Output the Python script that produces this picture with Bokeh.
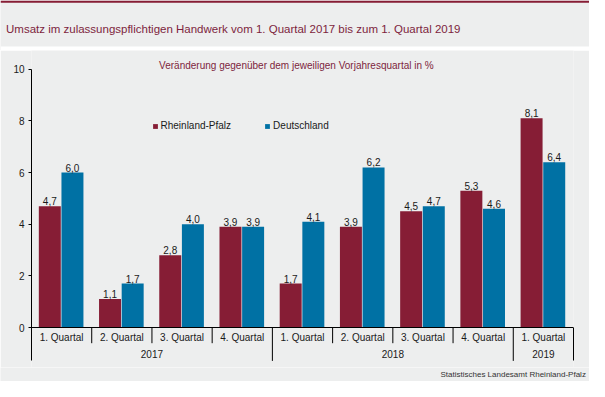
from bokeh.plotting import figure
from bokeh.layouts import column
from bokeh.models import (FactorRange, Range1d, ColumnDataSource, LinearAxis, CategoricalAxis,
                          FixedTicker, Label, BoxAnnotation, Legend, LegendItem)
from bokeh.transform import dodge
from bokeh.embed import file_html
from bokeh.resources import INLINE
from bokeh.core.properties import value

# ---------------- data ----------------
years = ["2017", "2017", "2017", "2017", "2018", "2018", "2018", "2018", "2019"]
quarters = ["1. Quartal", "2. Quartal", "3. Quartal", "4. Quartal",
            "1. Quartal", "2. Quartal", "3. Quartal", "4. Quartal", "1. Quartal"]
rlp = [4.7, 1.1, 2.8, 3.9, 1.7, 3.9, 4.5, 5.3, 8.1]
de = [6.0, 1.7, 4.0, 3.9, 4.1, 6.2, 4.7, 4.6, 6.4]
y_ticks = [0, 2, 4, 6, 8, 10]
series = ["Rheinland-Pfalz", "Deutschland"]

title = "Umsatz im zulassungspflichtigen Handwerk vom 1. Quartal 2017 bis zum 1. Quartal 2019"
subtitle = "Veränderung gegenüber dem jeweiligen Vorjahresquartal in %"
source_note = "Statistisches Landesamt Rheinland-Pfalz"

# ---------------- style ----------------
BG = "#EDEEEE"
RED = "#861D35"
BLUE = "#0071A4"
TITLE_COL = "#7D1F3D"
TXT = "#1A1A1A"
FONT = "Liberation Sans"

W = 589
HEAD_H, CHART_H, FOOT_H = 50, 317, 14
LEFT, RIGHT = 31, 16
Y0_PX = 277.0          # chart-canvas y of value 0
PX_PER_UNIT = 25.82
y_top = Y0_PX / PX_PER_UNIT
y_bot = -(CHART_H - Y0_PX) / PX_PER_UNIT
SHORT = 15.7 / PX_PER_UNIT
LONG = 33.4 / PX_PER_UNIT


def fmt(v):
    return f"{v:.1f}".replace(".", ",")


def blank(h):
    f = figure(width=W, height=h, x_range=Range1d(0, W), y_range=Range1d(0, h),
               output_backend="svg", toolbar_location=None,
               x_axis_location=None, y_axis_location=None,
               min_border=0, background_fill_color=BG, border_fill_color=BG,
               outline_line_color=None, frame_align=False)
    f.grid.visible = False
    return f


# ---------------- header ----------------
head = blank(HEAD_H)
head.add_layout(BoxAnnotation(bottom=HEAD_H - 2.2, top=HEAD_H, fill_color=RED,
                              fill_alpha=1, line_color=None))
head.add_layout(BoxAnnotation(bottom=0, top=4, fill_color="white",
                              fill_alpha=1, line_color=None))
head.add_layout(Label(x=5.5, y=HEAD_H - 28.8, text=title, text_font=FONT,
                      text_font_size="11.5px", text_color=TITLE_COL,
                      text_baseline="alphabetic"))

# ---------------- chart ----------------
factors = list(zip(years, quarters))
xr = FactorRange(factors=factors, factor_padding=0, group_padding=0,
                 subgroup_padding=0, range_padding=0)

p = figure(width=W, height=CHART_H, x_range=xr, y_range=Range1d(y_bot, y_top),
           output_backend="svg", toolbar_location=None,
           x_axis_location=None, y_axis_location=None,
           min_border_left=LEFT, min_border_right=RIGHT,
           min_border_top=0, min_border_bottom=0,
           background_fill_color=BG, border_fill_color=BG,
           outline_line_color=None, frame_align=False)
p.grid.visible = False

src = ColumnDataSource(dict(x=factors, rlp=rlp, de=de,
                            rlp_lbl=[fmt(v) for v in rlp],
                            de_lbl=[fmt(v) for v in de]))

OFF_R, OFF_D, BW = -0.196, 0.18, 0.365
r1 = p.vbar(x=dodge("x", OFF_R, range=p.x_range), top="rlp", width=BW, source=src,
            fill_color=RED, line_color=None)
r2 = p.vbar(x=dodge("x", OFF_D, range=p.x_range), top="de", width=BW, source=src,
            fill_color=BLUE, line_color=None)

for off, col in ((OFF_R, "rlp"), (OFF_D, "de")):
    p.text(x=dodge("x", off, range=p.x_range), y=col, text=col + "_lbl", source=src,
           text_align="center", text_baseline="alphabetic", y_offset=-5,
           text_font=value(FONT), text_font_size="10px", text_color=TXT)

# separators below the category axis
sep_x, sep_y1 = [], []
for i in range(1, len(factors)):
    sep_x.append((years[i], quarters[i], -0.5))
    sep_y1.append(-LONG if years[i] != years[i - 1] else -SHORT)
p.segment(x0=sep_x, x1=sep_x, y0=[0] * len(sep_x), y1=sep_y1,
          line_color="black", line_width=1)

yaxis = LinearAxis(ticker=FixedTicker(ticks=y_ticks), bounds=(-LONG, 10),
                   major_tick_out=3, major_tick_in=0, minor_tick_line_color=None,
                   major_label_standoff=4, major_label_text_font_size="10px",
                   major_label_text_font=FONT, major_label_text_color=TXT,
                   axis_line_color="black", major_tick_line_color="black")
p.add_layout(yaxis, "left")

raxis = LinearAxis(ticker=FixedTicker(ticks=[]), bounds=(-LONG, 0),
                   major_tick_line_color=None, minor_tick_line_color=None,
                   major_label_text_font_size="0px", axis_line_color="black")
p.add_layout(raxis, "right")

xaxis = CategoricalAxis(fixed_location=0, major_tick_line_color=None,
                        major_tick_out=0, major_tick_in=0, major_label_standoff=4,
                        minor_tick_line_color=None, axis_line_color="black",
                        major_label_text_font_size="10px", major_label_text_font=FONT,
                        major_label_text_color=TXT,
                        group_text_font_size="10px", group_text_font=FONT,
                        group_text_color=TXT, group_text_font_style="normal",
                        separator_line_color=None)
p.add_layout(xaxis, "below")

p.add_layout(Label(x=295.9 - LEFT, y=CHART_H - 15.1, x_units="screen", y_units="screen",
                   text=subtitle, text_font=FONT, text_font_size="10px",
                   text_color=TITLE_COL, text_baseline="alphabetic", text_align="center"))

legend = Legend(items=[LegendItem(label=series[0], renderers=[r1]),
                       LegendItem(label=series[1], renderers=[r2])],
                orientation="horizontal", location=(120.5, 236),
                padding=0, margin=0, spacing=33, glyph_width=6, glyph_height=6,
                label_standoff=3, label_height=10, label_text_font=FONT,
                label_text_font_size="10px", label_text_color=TXT,
                background_fill_alpha=0, border_line_color=None)
p.add_layout(legend)

# ---------------- footer ----------------
foot = blank(FOOT_H)
foot.add_layout(Label(x=585.4, y=FOOT_H / 2, text=source_note, text_font=FONT,
                      text_font_size="8px", text_color="#333333",
                      text_baseline="middle", text_align="right"))

layout = column(head, p, foot, spacing=0)
open("out.html", "w").write(file_html(layout, INLINE))
